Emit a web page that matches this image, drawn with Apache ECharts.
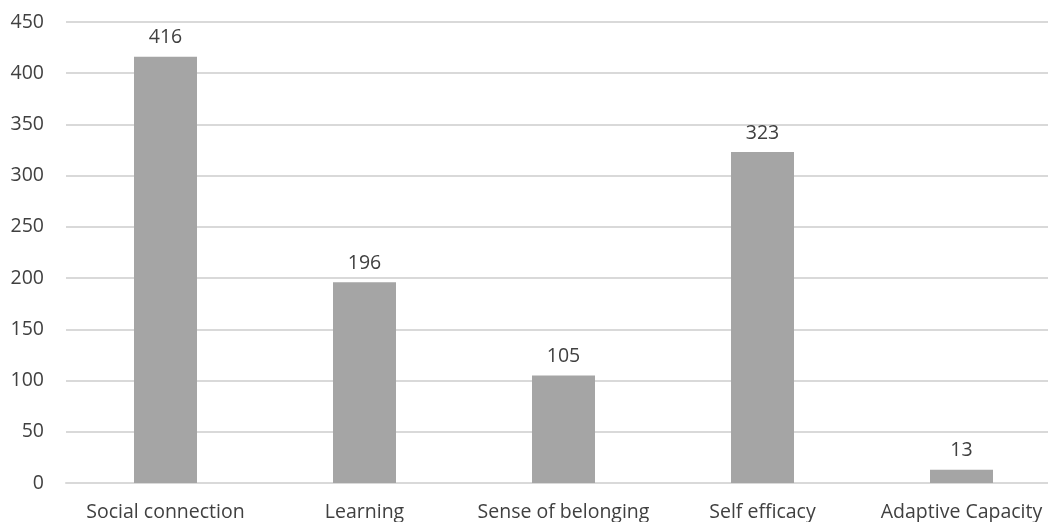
<!DOCTYPE html>
<html>
<head>
<meta charset="utf-8">
<script src="https://cdn.jsdelivr.net/npm/echarts@6/dist/echarts.min.js"></script>
<style>
html, body { margin: 0; padding: 0; background: #fff; overflow: hidden; }
#chart { width: 1061px; height: 522px; }
</style>
</head>
<body>
<div id="chart"></div>
<script>
const categories = ['Social connection', 'Learning', 'Sense of belonging', 'Self efficacy', 'Adaptive Capacity'];
const counts = [416, 196, 105, 323, 13];
const yTicks = [0, 50, 100, 150, 200, 250, 300, 350, 400, 450];

const chart = echarts.init(document.getElementById('chart'));
const font = '"Open Sans", "Noto Sans", sans-serif';

// plot area runs slightly past the right edge of the window, as in the original
chart.setOption({
	animation: false,
	textStyle: { fontFamily: font },
	grid: { left: 66, right: 0, top: 22, bottom: 39, containLabel: false },
	xAxis: {
		type: 'category',
		data: categories,
		axisLine: { lineStyle: { color: '#d9d9d9', width: 2 } },
		axisTick: { show: false },
		axisLabel: { color: '#404040', fontSize: 19.5, margin: 19, interval: 0 }
	},
	yAxis: {
		type: 'value',
		min: yTicks[0],
		max: yTicks[yTicks.length - 1],
		interval: 50,
		axisLine: { show: false },
		axisTick: { show: false },
		axisLabel: { color: '#404040', fontSize: 19.5, margin: 22 },
		splitLine: { lineStyle: { color: '#d9d9d9', width: 2 } }
	},
	series: [{
		type: 'bar',
		data: counts,
		barWidth: 63,
		itemStyle: { color: '#a5a5a5' },
		label: { show: true, position: 'top', distance: 9, color: '#404040', fontSize: 19.5, fontFamily: font }
	}]
});
</script>
</body>
</html>
